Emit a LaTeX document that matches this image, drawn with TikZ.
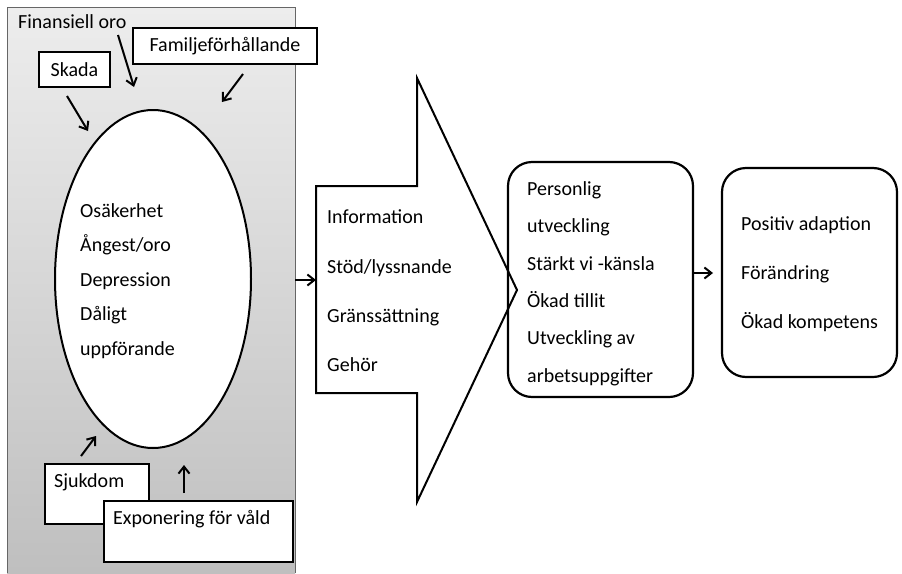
\documentclass[tikz,border=0pt]{standalone}
\usepackage{fontspec}
\setmainfont{Carlito}
\usetikzlibrary{shapes.geometric,arrows.meta}
\definecolor{paneltop}{HTML}{EDEDED}
\definecolor{panelbot}{HTML}{BFBFBF}
\begin{document}
\begin{tikzpicture}[x=1pt,y=-1pt,
  every node/.style={font=\fontsize{20}{24}\selectfont},
  sbox/.style={draw,line width=2.2pt,fill=white,inner sep=0pt},
  conn/.style={line width=2pt,-{Straight Barb[length=7pt,width=11pt,line width=2pt]}},
  txt/.style={anchor=west,inner sep=0pt,align=left}]
\useasboundingbox (0,0) rectangle (902,573);
% panel
\fill[top color=paneltop,bottom color=panelbot] (7,7) rectangle (295,573);
\draw[black!60,line width=1pt] (7,573) -- (7,7) -- (295,7) -- (295,573);
\coordinate (panelR) at (295,280);
% ellipse
\node[ellipse,draw,line width=2pt,fill=white,minimum width=196pt,minimum height=338pt,inner sep=0pt] (ell) at (153,279) {};
\node[txt,font=\fontsize{20}{34.5}\selectfont] (elltxt) at (80,281) {Osäkerhet\\Ångest/oro\\Depression\\Dåligt\\uppförande};
% top causes
\node[inner sep=0pt,anchor=west] (fin) at (18,22) {Finansiell oro};
\node[sbox,minimum width=184pt,minimum height=36pt] (fam) at (225,46) {Familjeförhållande};
\node[sbox,minimum width=71pt,minimum height=35pt] (skada) at (74.5,69.5) {Skada};
\coordinate (finS) at (118,35); \coordinate (finE) at (134,87);
\coordinate (skS) at (67,96); \coordinate (skE) at (88,131);
\coordinate (faS) at (243,74); \coordinate (faE) at (222,102);
\draw[conn] (finS) -- (finE);
\draw[conn] (skS) -- (skE);
\draw[conn] (faS) -- (faE);
% bottom causes
\node[sbox,minimum width=104pt,minimum height=60pt,anchor=north west] (sjuk) at (44,463) {};
\node[txt] (sjuktxt) at (54,482) {Sjukdom};
\node[sbox,minimum width=189pt,minimum height=61pt,anchor=north west] (expo) at (103,500) {};
\node[txt] (expotxt) at (113,519) {Exponering för våld};
\coordinate (sjS) at (81,456); \coordinate (sjE) at (96,436);
\coordinate (exS) at (184,493); \coordinate (exE) at (184,465);
\draw[conn] (sjS) -- (sjE);
\draw[conn] (exS) -- (exE);
% big arrow
\coordinate (baL) at (316,280);
\draw[line width=2pt,fill=white,line join=miter] (316,186) -- (417,186) -- (417,78) -- (517,290) -- (417,502) -- (417,393) -- (316,393) -- cycle;
\node[txt,font=\fontsize{20}{49.3}\selectfont] (batxt) at (327,291) {Information\\Stöd/lyssnande\\Gränssättning\\Gehör};
\draw[conn] (panelR) -- (baL);
% box 3
\node[draw,line width=2.2pt,rounded corners=24pt,minimum width=185pt,minimum height=235pt,inner sep=0pt] (b3) at (600.5,279.5) {};
\node[txt,font=\fontsize{20}{37.4}\selectfont] (b3txt) at (527,283.5) {Personlig\\utveckling\\Stärkt vi -känsla\\Ökad tillit\\Utveckling av\\arbetsuppgifter};
% box 4
\node[draw,line width=2.2pt,rounded corners=24pt,minimum width=175pt,minimum height=209pt,inner sep=0pt] (b4) at (809.5,272.5) {};
\node[txt,font=\fontsize{20}{49}\selectfont] (b4txt) at (741,274) {Positiv adaption\\Förändring\\Ökad kompetens};
\coordinate (b3R) at (693,273); \coordinate (b4L) at (713,273);
\draw[conn] (b3R) -- (b4L);
\end{tikzpicture}
\end{document}
